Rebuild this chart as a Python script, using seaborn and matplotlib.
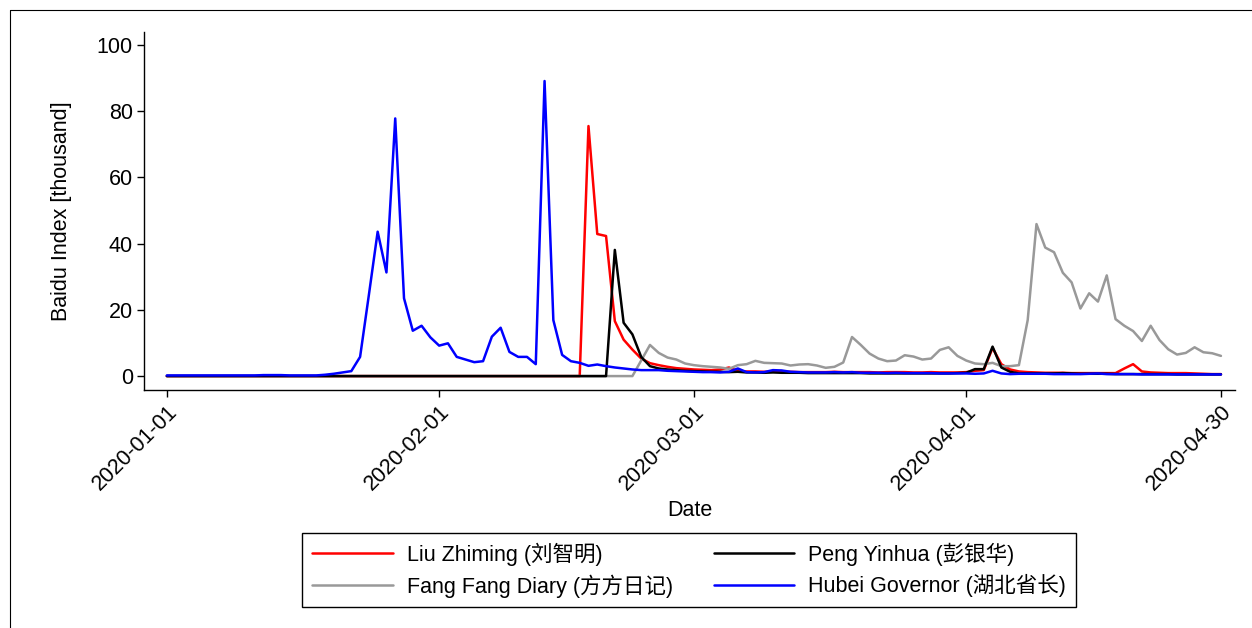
import pandas as pd
import matplotlib.pyplot as plt
import matplotlib.dates as mdates
from matplotlib.lines import Line2D
import seaborn as sns

# daily Baidu index, thousand, 2020-01-01 .. 2020-04-30
dates = pd.date_range("2020-01-01", "2020-04-30", freq="D")

liu_zhiming = [
    0, 0, 0, 0, 0, 0, 0, 0, 0, 0,
    0, 0, 0, 0, 0, 0, 0, 0, 0, 0,
    0, 0, 0, 0, 0, 0, 0, 0, 0, 0,
    0, 0, 0, 0, 0, 0, 0, 0, 0, 0,
    0, 0, 0, 0, 0, 0, 0, 0, 75.5, 42.9,
    42.3, 16.6, 11.0, 8.0, 5.3, 3.9, 3.3, 2.8, 2.4, 2.2,
    2.0, 1.9, 1.8, 2.0, 2.6, 1.5, 1.4, 1.4, 1.3, 1.4,
    1.3, 1.3, 1.2, 1.2, 1.2, 1.2, 1.3, 1.2, 1.2, 1.2,
    1.2, 1.1, 1.2, 1.2, 1.2, 1.1, 1.1, 1.2, 1.1, 1.1,
    1.1, 1.2, 1.6, 1.8, 8.5, 3.6, 2.0, 1.4, 1.2, 1.1,
    1.0, 1.0, 1.0, 0.9, 0.9, 0.9, 0.9, 0.9, 0.9, 2.3,
    3.6, 1.4, 1.1, 1.0, 0.9, 0.9, 0.9, 0.8, 0.7, 0.6,
    0.6,
]

peng_yinhua = [
    0, 0, 0, 0, 0, 0, 0, 0, 0, 0,
    0, 0, 0, 0, 0, 0, 0, 0, 0, 0,
    0, 0, 0, 0, 0, 0, 0, 0, 0, 0,
    0, 0, 0, 0, 0, 0, 0, 0, 0, 0,
    0, 0, 0, 0, 0, 0, 0, 0, 0, 0,
    0, 38.1, 16.1, 12.6, 5.8, 3.0, 2.3, 2.0, 1.8, 1.6,
    1.5, 1.4, 1.3, 1.3, 1.2, 1.3, 1.1, 1.1, 1.0, 1.1,
    1.0, 1.0, 1.0, 0.9, 0.9, 0.9, 0.9, 0.9, 0.9, 0.9,
    0.8, 0.8, 0.8, 0.8, 0.8, 0.8, 0.8, 0.8, 0.8, 0.8,
    0.9, 1.0, 2.1, 2.1, 8.9, 2.6, 1.3, 0.8, 0.8, 0.8,
    0.8, 0.8, 0.9, 0.8, 0.7, 0.7, 0.7, 0.7, 0.6, 0.6,
    0.6, 0.6, 0.6, 0.6, 0.6, 0.5, 0.5, 0.5, 0.5, 0.5,
    0.5,
]

fang_fang = [
    0, 0, 0, 0, 0, 0, 0, 0, 0, 0,
    0, 0, 0, 0, 0, 0, 0, 0, 0, 0,
    0, 0, 0, 0, 0, 0, 0, 0, 0, 0,
    0, 0, 0, 0, 0, 0, 0, 0, 0, 0,
    0, 0, 0, 0, 0, 0, 0, 0, 0, 0,
    0, 0, 0, 0, 4.7, 9.4, 7.0, 5.6, 5.0, 3.8,
    3.3, 3.0, 2.8, 2.6, 2.2, 3.3, 3.6, 4.6, 4.0, 3.9,
    3.8, 3.2, 3.5, 3.6, 3.2, 2.5, 2.8, 4.1, 11.8, 9.4,
    6.8, 5.3, 4.5, 4.7, 6.3, 5.9, 5.0, 5.3, 7.9, 8.7,
    6.1, 4.7, 3.8, 3.6, 4.0, 3.0, 3.0, 3.3, 16.9, 45.9,
    38.8, 37.4, 31.2, 28.3, 20.4, 25.0, 22.5, 30.4, 17.2, 15.2,
    13.6, 10.6, 15.2, 10.9, 8.1, 6.5, 7.0, 8.7, 7.2, 6.9,
    6.1,
]

hubei_governor = [
    0.2, 0.2, 0.2, 0.2, 0.2, 0.2, 0.2, 0.2, 0.2, 0.2,
    0.2, 0.3, 0.3, 0.3, 0.2, 0.2, 0.2, 0.2, 0.4, 0.7,
    1.1, 1.5, 5.8, 24.5, 43.6, 31.3, 77.8, 23.5, 13.7, 15.2,
    11.7, 9.2, 9.9, 5.8, 5.0, 4.2, 4.5, 11.9, 14.6, 7.3,
    5.8, 5.8, 3.6, 89.1, 16.9, 6.4, 4.5, 4.0, 3.1, 3.5,
    3.0, 2.6, 2.3, 2.0, 1.8, 1.8, 1.8, 1.6, 1.5, 1.4,
    1.3, 1.2, 1.2, 1.1, 1.3, 2.3, 1.2, 1.1, 1.2, 1.8,
    1.7, 1.3, 1.2, 1.1, 1.1, 1.1, 1.2, 1.1, 1.2, 1.0,
    1.0, 1.0, 0.9, 1.0, 0.9, 0.9, 0.9, 0.9, 0.8, 0.8,
    0.8, 0.8, 0.7, 0.8, 1.6, 0.8, 0.6, 0.7, 0.7, 0.7,
    0.7, 0.6, 0.6, 0.6, 0.6, 0.7, 0.8, 0.6, 0.6, 0.6,
    0.6, 0.5, 0.5, 0.5, 0.5, 0.5, 0.5, 0.5, 0.5, 0.5,
    0.5,
]

series_names = [
    "Liu Zhiming (刘智明)",
    "Fang Fang Diary (方方日记)",
    "Peng Yinhua (彭银华)",
    "Hubei Governor (湖北省长)",
]
series_values = [liu_zhiming, fang_fang, peng_yinhua, hubei_governor]
series_colors = ["#ff0000", "#999999", "#000000", "#0000ff"]

tick_dates = ["2020-01-01", "2020-02-01", "2020-03-01", "2020-04-01", "2020-04-30"]
y_ticks = [0, 20, 40, 60, 80, 100]

df = pd.concat(
    [pd.DataFrame({"Date": dates, "value": v, "series": n})
     for n, v in zip(series_names, series_values)],
    ignore_index=True,
)

sns.set_theme(style="ticks")
plt.rcParams["font.family"] = ["Liberation Sans", "Noto Sans CJK SC", "DejaVu Sans"]
plt.rcParams.update({
    "font.size": 15.5,
    "text.color": "black",
    "axes.labelcolor": "black",
    "xtick.color": "black",
    "ytick.color": "black",
})
FS = 15.5

fig = plt.figure(figsize=(12.52, 6.28), dpi=100)
ax = fig.add_axes([144 / 1252, 1 - 390 / 628, (1235 - 144) / 1252, (390 - 32) / 628])

sns.lineplot(
    data=df, x="Date", y="value", hue="series",
    hue_order=series_names, palette=series_colors,
    estimator=None, linewidth=1.8, ax=ax, legend=False,
)

start = pd.Timestamp("2020-01-01")
ax.set_xlim(start - pd.Timedelta(days=2.6), start + pd.Timedelta(days=121.6))
ax.set_ylim(-4.2, 103.9)

ax.set_xticks(pd.to_datetime(tick_dates))
ax.xaxis.set_major_formatter(mdates.DateFormatter("%Y-%m-%d"))
ax.set_yticks(y_ticks)
ax.tick_params(axis="both", direction="out", length=5, width=1, colors="black",
               labelsize=FS, pad=3)
for lbl in ax.get_xticklabels():
    lbl.set_rotation(45)
    lbl.set_ha("right")
    lbl.set_rotation_mode("anchor")

ax.set_xlabel("Date", fontsize=FS, labelpad=4)
ax.set_ylabel("Baidu Index [thousand]", fontsize=FS, labelpad=18)

sns.despine(ax=ax)
for side in ["left", "bottom"]:
    ax.spines[side].set_color("black")
    ax.spines[side].set_linewidth(1)

handles = [Line2D([0], [0], color=c, lw=1.8) for c in series_colors]
leg = ax.legend(
    handles, series_names, ncol=2, loc="upper center",
    bbox_to_anchor=(689 / 1252, 1 - 533 / 628), bbox_transform=fig.transFigure,
    borderaxespad=0, frameon=True, fancybox=False, edgecolor="black", framealpha=1,
    handlelength=3.75, handletextpad=0.65, columnspacing=1.9,
    borderpad=0.45, labelspacing=0.38, fontsize=FS,
)
leg.get_frame().set_linewidth(1)

# outer graph-region frame (cropped at right and bottom)
fig.add_artist(Line2D([9.5 / 1252, 9.5 / 1252], [0, 1 - 9.5 / 628],
                      transform=fig.transFigure, color="black", lw=0.8))
fig.add_artist(Line2D([9.5 / 1252, 1], [1 - 9.5 / 628, 1 - 9.5 / 628],
                      transform=fig.transFigure, color="black", lw=0.8))

fig.savefig("out.png", dpi=100)
